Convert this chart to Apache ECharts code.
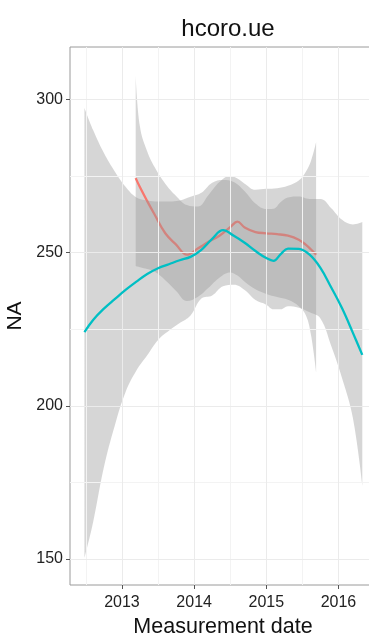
<!DOCTYPE html>
<html>
<head>
<meta charset="utf-8">
<script src="https://cdn.jsdelivr.net/npm/echarts@6/dist/echarts.min.js"></script>
<style>
html,body{margin:0;padding:0;background:#fff;}
#chart{width:369px;height:635px;}
</style>
</head>
<body>
<div id="chart"></div>
<script>
// ---- data (x in decimal years) ----
const tealX     = [2012.48,2012.6,2012.75,2012.9,2013.05,2013.2,2013.35,2013.5,2013.65,2013.8,2013.95,2014.1,2014.25,2014.4,2014.55,2014.7,2014.85,2015.0,2015.1,2015.2,2015.3,2015.45,2015.6,2015.75,2015.9,2016.05,2016.2,2016.33];
const tealFit   = [224.0,228.0,231.7,234.8,237.8,240.5,243.0,244.9,246.2,247.5,248.6,250.9,254.5,257.3,255.5,253.2,250.5,248.2,247.3,249.5,251.3,251.2,249.3,245.0,238.6,231.8,223.8,216.6];
const tealUpper = [297.2,290.0,282.5,276.5,271.5,268.0,267.0,266.7,266.7,267.0,268.2,269.5,272.8,273.7,273.0,270.0,266.0,264.2,264.3,266.5,268.0,268.3,267.5,267.5,264.5,260.7,259.2,260.0];
const tealLower = [150.3,162.0,180.0,193.5,204.5,211.5,216.5,221.5,224.5,227.0,229.5,235.0,236.0,239.0,239.5,237.8,234.5,233.0,231.5,231.5,232.5,232.0,230.5,228.5,219.5,209.0,196.0,174.0];

const redX      = [2013.19,2013.25,2013.35,2013.45,2013.6,2013.75,2013.9,2014.05,2014.2,2014.35,2014.5,2014.6,2014.7,2014.85,2015.0,2015.15,2015.3,2015.45,2015.55,2015.62,2015.69];
const redFit    = [274.3,271.3,266.8,262.5,256.3,252.6,249.3,251.3,253.5,255.5,258.3,260.1,258.2,256.7,256.3,256.0,255.5,254.2,252.5,251.0,249.3];
const redUpper  = [308.0,291.0,283.0,278.0,272.5,268.5,265.5,265.0,268.8,273.0,275.0,274.2,272.5,270.5,270.8,271.0,271.8,273.5,276.5,280.0,286.0];
const redLower  = [245.6,245.2,244.6,243.8,241.0,237.5,234.2,235.5,238.5,241.8,243.5,242.5,240.5,238.0,236.5,235.5,234.6,232.5,229.5,223.0,211.0];

const xTicks = [2013, 2014, 2015, 2016];
const yTicks = [150, 200, 250, 300];
const xMinor = [2012.5, 2013.5, 2014.5, 2015.5, 2016.5];
const yMinor = [175, 225, 275];

const TEAL = '#00BFC4', RED = '#F8766D', BAND = 'rgba(153,153,153,0.4)';
const FONT = '"Liberation Sans", Arial, sans-serif';

// value first, year second (so that stacking acts on the value dimension)
function pairs(xs, ys) { return xs.map((x, i) => [ys[i], x]); }
function spans(xs, lo, hi) { return xs.map((x, i) => [hi[i] - lo[i], x]); }
const ENC = { x: 1, y: 0 };

function ribbon(name, xs, lo, hi, z) {
  return [
    { name: name + 'Base', type: 'line', stack: name, data: pairs(xs, lo), encode: ENC, smooth: 0.4,
      symbol: 'none', showSymbol: false, lineStyle: { width: 0, opacity: 0 }, z: z, silent: true },
    { name: name + 'Span', type: 'line', stack: name, data: spans(xs, lo, hi), encode: ENC, smooth: 0.4,
      symbol: 'none', showSymbol: false, lineStyle: { width: 0, opacity: 0 }, areaStyle: { color: BAND, opacity: 1 }, z: z, silent: true }
  ];
}

const gridLines = []
  .concat(xMinor.map(v => ({ xAxis: v, lineStyle: { color: '#f3f3f3', width: 1, type: 'solid' } })))
  .concat(yMinor.map(v => ({ yAxis: v, lineStyle: { color: '#f3f3f3', width: 1, type: 'solid' } })))
  .concat(xTicks.map(v => ({ xAxis: v, lineStyle: { color: '#ebebeb', width: 1, type: 'solid' } })))
  .concat(yTicks.map(v => ({ yAxis: v, lineStyle: { color: '#ebebeb', width: 1, type: 'solid' } })));

const chart = echarts.init(document.getElementById('chart'), null, { renderer: 'canvas' });
chart.setOption({
  animation: false,
  backgroundColor: '#fff',
  title: {
    text: 'hcoro.ue', left: 223, top: 12, textAlign: 'center',
    textStyle: { fontSize: 24, fontWeight: 'normal', color: '#111', fontFamily: FONT }
  },
  grid: { left: 70, top: 47, right: -7, bottom: 50, outerBoundsMode: 'none', containLabel: false,
          show: true, borderColor: '#9a9a9a', borderWidth: 1, backgroundColor: 'transparent' },
  xAxis: {
    type: 'value', min: 2012.28, max: 2016.52,
    name: 'Measurement date', nameLocation: 'middle', nameGap: 30,
    nameTextStyle: { fontSize: 21.5, color: '#111', fontFamily: FONT },
    axisLine: { show: false },
    splitLine: { show: false },
    axisTick: { show: true, length: 4, customValues: xTicks, lineStyle: { color: '#555', width: 1 } },
    axisLabel: { customValues: xTicks, fontSize: 16, color: '#222', fontFamily: FONT, margin: 10, formatter: v => String(Math.round(v)) }
  },
  yAxis: {
    type: 'value', min: 141.5, max: 317.1,
    name: 'NA', nameLocation: 'middle', nameGap: 40,
    nameTextStyle: { fontSize: 21, color: '#111', fontFamily: FONT },
    axisLine: { show: false },
    splitLine: { show: false },
    axisTick: { show: true, length: 4, customValues: yTicks, lineStyle: { color: '#555', width: 1 } },
    axisLabel: { customValues: yTicks, fontSize: 16, color: '#222', fontFamily: FONT, margin: 7, formatter: v => String(Math.round(v)) }
  },
  series: [
    { name: 'grid', type: 'line', data: [], symbol: 'none', z: 0, silent: true,
      markLine: { silent: true, symbol: ['none', 'none'], label: { show: false }, animation: false, data: gridLines } }
  ]
  .concat(ribbon('redBand', redX, redLower, redUpper, 2))
  .concat([{ name: 'red', type: 'line', data: pairs(redX, redFit), encode: ENC, smooth: 0.4, symbol: 'none', showSymbol: false,
             lineStyle: { color: RED, width: 2.3 }, z: 3, silent: true }])
  .concat(ribbon('tealBand', tealX, tealLower, tealUpper, 4))
  .concat([{ name: 'teal', type: 'line', data: pairs(tealX, tealFit), encode: ENC, smooth: 0.4, symbol: 'none', showSymbol: false,
             lineStyle: { color: TEAL, width: 2.3 }, z: 5, silent: true }])
});
</script>
</body>
</html>
